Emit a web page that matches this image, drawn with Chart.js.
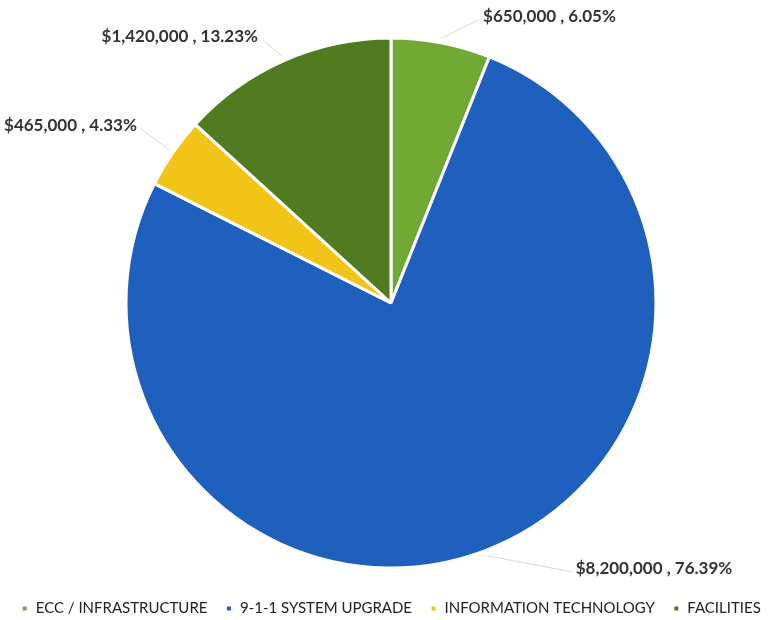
<!DOCTYPE html>
<html>
<head>
<meta charset="utf-8">
<script src="https://cdn.jsdelivr.net/npm/chart.js@4.4.1/dist/chart.umd.min.js"></script>
<style>
  html, body { margin: 0; padding: 0; background: #fff; }
  #wrap { width: 780px; height: 620px; }
</style>
</head>
<body>
<div id="wrap"><canvas id="budgetPie"></canvas></div>
<script>
// capital budget split by program
var categories = ['ECC / INFRASTRUCTURE', '9-1-1 SYSTEM UPGRADE', 'INFORMATION TECHNOLOGY', 'FACILITIES'];
var amounts = [650000, 8200000, 465000, 1420000];
var percents = ['6.05%', '76.39%', '4.33%', '13.23%'];
var sliceColors = ['#72a934', '#1f5fbd', '#f1c417', '#517b20'];

function money(v) {
    return '$' + v.toLocaleString('en-US');
}

// callout labels with faint leader lines, placed off the middle of each slice edge
var calloutPlugin = {
    id: 'callouts',
    afterDatasetsDraw: function (chart, args, opts) {
        var ctx = chart.ctx;
        var meta = chart.getDatasetMeta(0);
        ctx.save();
        ctx.font = 'bold 17px Lato, sans-serif';
        ctx.textBaseline = 'middle';
        meta.data.forEach(function (arc, i) {
            var p = arc.getProps(['x', 'y', 'startAngle', 'endAngle', 'outerRadius'], true);
            var mid = (p.startAngle + p.endAngle) / 2;
            var ex = p.x + Math.cos(mid) * p.outerRadius;
            var ey = p.y + Math.sin(mid) * p.outerRadius;
            var place = opts.place[i];
            var tx = ex + place.dx;
            var ty = ey + place.dy;

            // leader line
            ctx.strokeStyle = 'rgba(190,190,190,0.6)';
            ctx.lineWidth = 1;
            ctx.beginPath();
            ctx.moveTo(p.x + Math.cos(mid) * (p.outerRadius + 5), p.y + Math.sin(mid) * (p.outerRadius + 5));
            ctx.lineTo(tx + (place.align === 'left' ? -4 : 4), ty + 3);
            ctx.stroke();

            ctx.fillStyle = '#333333';
            ctx.textAlign = place.align;
            ctx.fillText(money(amounts[i]) + ' , ' + percents[i], tx, ty);
        });
        ctx.restore();
    }
};

var ctx = document.getElementById('budgetPie').getContext('2d');
var chart = new Chart(ctx, {
    type: 'pie',
    data: {
        labels: categories,
        datasets: [{
            data: amounts,
            backgroundColor: sliceColors,
            borderColor: '#ffffff',
            borderWidth: 3,
            radius: 265
        }]
    },
    options: {
        responsive: true,
        maintainAspectRatio: false,
        animation: false,
        layout: {
            padding: { top: 23, left: 2, right: 0, bottom: -6 }
        },
        plugins: {
            tooltip: { enabled: false },
            legend: {
                position: 'bottom',
                labels: {
                    boxWidth: 7,
                    boxHeight: 7,
                    padding: 18,
                    color: '#222222',
                    font: { family: 'Lato, sans-serif', size: 15 }
                }
            },
            callouts: {
                place: [
                    { dx: 42, dy: -26, align: 'left' },
                    { dx: 91, dy: 18, align: 'left' },
                    { dx: -36, dy: -27, align: 'right' },
                    { dx: -26, dy: -24, align: 'right' }
                ]
            }
        }
    },
    plugins: [calloutPlugin]
});
</script>
</body>
</html>
